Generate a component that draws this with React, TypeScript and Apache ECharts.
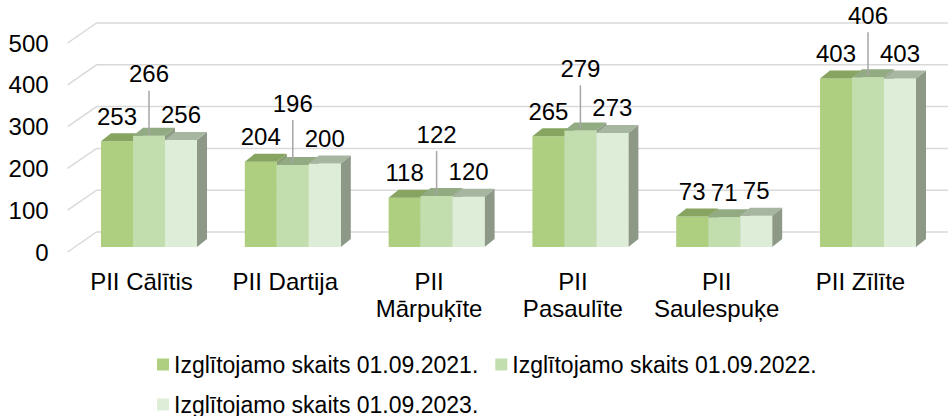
import React, { useEffect, useRef } from "react";
import * as echarts from "echarts";

const categories = [
  "PII Cālītis",
  "PII Dartija",
  "PII Mārpuķīte",
  "PII Pasaulīte",
  "PII Saulespuķe",
  "PII Zīlīte",
];
const seriesNames = [
  "Izglītojamo skaits 01.09.2021.",
  "Izglītojamo skaits 01.09.2022.",
  "Izglītojamo skaits 01.09.2023.",
];
const values2021 = [253, 204, 118, 265, 73, 403];
const values2022 = [266, 196, 122, 279, 71, 406];
const values2023 = [256, 200, 120, 273, 75, 403];
const yTicks = [0, 100, 200, 300, 400, 500];

const FONT = '"Liberation Sans", Arial, sans-serif';
const palette = [
  { front: "#AFCF80", top: "#87A461", side: "#8B9B74" },
  { front: "#C2DEAE", top: "#92AB82", side: "#8E9C85" },
  { front: "#DEEDD7", top: "#A7B6A0", side: "#8E9887" },
];

// geometry (styling only)
const SHIFT_X = 7.5;
const SHIFT_Y = -5;
const BAR_FRAC = 0.2225;
const DEPTH_X = 10;
const DEPTH_Y = -8;
const WALL_X = 29;
const WALL_Y = -20;
const LABEL_SIZE = 24;

function makeBarRenderer(si: number) {
  return (params: any, api: any) => {
    const ci = api.value(0);
    const v = api.value(1);
    const top = api.coord([ci, v]);
    const bot = api.coord([ci, 0]);
    const band = api.size([1, 0])[0];
    const w = band * BAR_FRAC;
    const x0 = top[0] - 1.5 * w + si * w + SHIFT_X;
    const yT = top[1] + SHIFT_Y;
    const yB = bot[1] + SHIFT_Y;
    const col = palette[si];
    const cx = x0 + w / 2;
    const txt = String(v);
    const raise = si === 1 && txt.length * 0.556 * LABEL_SIZE > w;
    const ly = raise ? yT - 62 : yT - 25;
    const children: any[] = [
      {
        type: "polygon",
        shape: {
          points: [
            [x0 + w, yT],
            [x0 + w + DEPTH_X, yT + DEPTH_Y],
            [x0 + w + DEPTH_X, yB + DEPTH_Y],
            [x0 + w, yB],
          ],
        },
        style: { fill: col.side },
      },
      {
        type: "rect",
        shape: { x: x0, y: yT, width: w, height: yB - yT },
        style: { fill: col.front },
      },
      {
        type: "polygon",
        shape: {
          points: [
            [x0, yT],
            [x0 + w, yT],
            [x0 + w + DEPTH_X, yT + DEPTH_Y],
            [x0 + DEPTH_X, yT + DEPTH_Y],
          ],
        },
        style: { fill: col.top },
      },
      {
        type: "text",
        style: {
          text: txt,
          x: cx,
          y: ly,
          align: "center",
          verticalAlign: "middle",
          fill: "#000",
          fontSize: LABEL_SIZE,
          fontFamily: FONT,
        },
      },
    ];
    if (raise) {
      children.push({
        type: "line",
        shape: { x1: cx, y1: ly + 17, x2: cx, y2: yT - 2 },
        style: { stroke: "#A6A6A6", lineWidth: 1.5 },
      });
    }
    return { type: "group", children };
  };
}

export default function App() {
  const ref = useRef<HTMLDivElement>(null);
  useEffect(() => {
    if (!ref.current) return;
    const chart = echarts.init(ref.current, undefined, { renderer: "svg" });
    const all = [values2021, values2022, values2023];
    chart.setOption({
      animation: false,
      backgroundColor: "#fff",
      grid: { left: 69.6, right: 16.6, top: 43, bottom: 164, containLabel: false },
      legend: {
        data: seriesNames,
        left: 152,
        top: 348,
        width: 700,
        itemWidth: 12,
        itemHeight: 12,
        itemGap: 17,
        icon: "rect",
        textStyle: { fontSize: 23, fontFamily: FONT, color: "#000" },
      },
      xAxis: {
        type: "category",
        data: categories,
        axisLine: { show: false },
        axisTick: { show: false },
        splitLine: { show: false },
        axisLabel: {
          interval: 0,
          fontSize: 24,
          lineHeight: 27,
          margin: 16,
          color: "#000",
          fontFamily: FONT,
          formatter: (v: string) => (v.length > 12 ? v.replace(" ", "\n") : v),
        },
      },
      yAxis: {
        type: "value",
        min: 0,
        max: 500,
        interval: 100,
        axisLine: { show: false },
        axisTick: { show: false },
        splitLine: { show: false },
        axisLabel: { fontSize: 24, color: "#000", margin: 21, fontFamily: FONT },
      },
      series: [
        {
          type: "custom",
          silent: true,
          clip: false,
          encode: { x: 0, y: 1 },
          data: yTicks.map((t) => [0, t]),
          renderItem: (params: any, api: any) => {
            const y = api.coord([0, api.value(1)])[1];
            const gx = params.coordSys.x - 2;
            return {
              type: "polyline",
              shape: {
                points: [
                  [gx, y],
                  [gx + WALL_X, y + WALL_Y],
                  [948, y + WALL_Y],
                ],
              },
              style: { stroke: "#D9D9D9", lineWidth: 1.5, fill: "none" },
            };
          },
          z: 1,
        },
        ...all.map((vals, si) => ({
          type: "custom",
          name: seriesNames[si],
          clip: false,
          encode: { x: 0, y: 1 },
          itemStyle: { color: palette[si].front },
          data: vals.map((v, i) => [i, v]),
          renderItem: makeBarRenderer(si),
          z: 2,
        })),
      ],
    });
    return () => chart.dispose();
  }, []);
  return (
    <div
      ref={ref}
      style={{ position: "absolute", left: 0, top: 0, width: 949, height: 416 }}
    />
  );
}
